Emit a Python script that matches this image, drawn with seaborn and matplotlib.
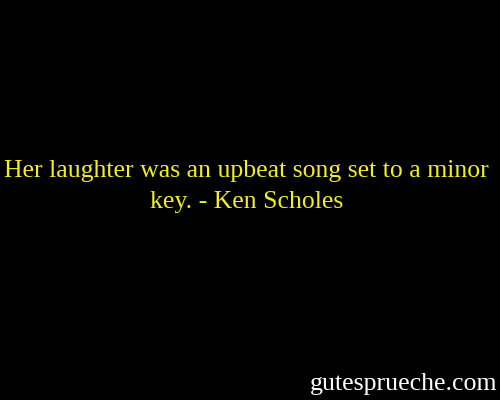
import seaborn as sns
import matplotlib.pyplot as plt

# quote text, split the way the picture wraps it
quote_lines = ["Her laughter was an upbeat song set to a minor",
               "key. - Ken Scholes"]
line_y = [0.573, 0.495]
site = "gutesprueche.com"

sns.set_theme(style="white")
plt.rcParams['font.family'] = ['Liberation Serif', 'DejaVu Serif']

fig = plt.figure(figsize=(5, 4), dpi=100, facecolor="black")
ax = fig.add_axes([0, 0, 1, 1])
ax.set_facecolor("black")
ax.set_xlim(0, 1)
ax.set_ylim(0, 1)
ax.axis("off")

for txt, y in zip(quote_lines, line_y):
    ax.text(0.493, y, txt, color="#f2ee22", fontsize=18.5,
            ha="center", va="center")

ax.text(0.994, 0.04, site, color="white", fontsize=18.6, ha="right", va="center")

fig.savefig("out.png", dpi=100, facecolor="black")
